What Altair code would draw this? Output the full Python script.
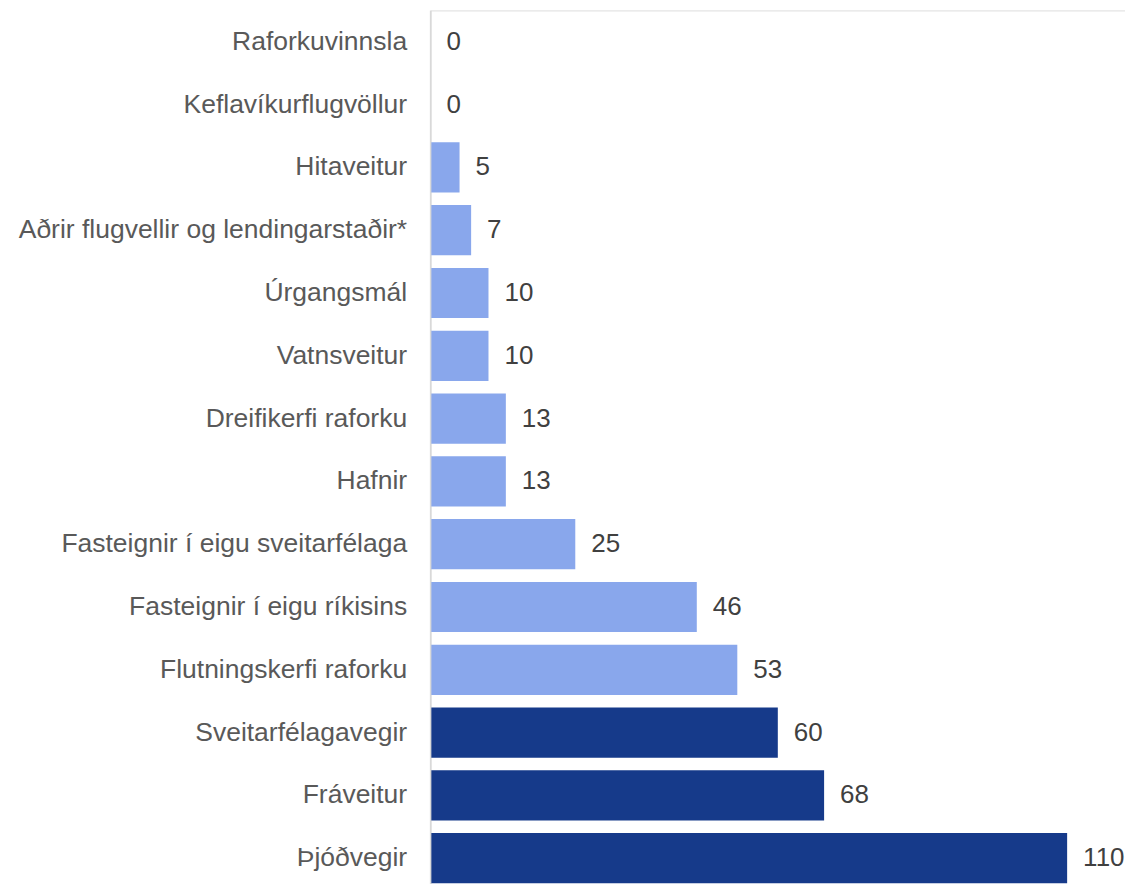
import altair as alt
import pandas as pd

categories = [
    "Raforkuvinnsla",
    "Keflavíkurflugvöllur",
    "Hitaveitur",
    "Aðrir flugvellir og lendingarstaðir*",
    "Úrgangsmál",
    "Vatnsveitur",
    "Dreifikerfi raforku",
    "Hafnir",
    "Fasteignir í eigu sveitarfélaga",
    "Fasteignir í eigu ríkisins",
    "Flutningskerfi raforku",
    "Sveitarfélagavegir",
    "Fráveitur",
    "Þjóðvegir",
]
values = [0, 0, 5, 7, 10, 10, 13, 13, 25, 46, 53, 60, 68, 110]
groups = ["light"] * 11 + ["dark"] * 3
baseline_value = [0]

df = pd.DataFrame({"cat": categories, "val": values, "grp": groups})
base_df = pd.DataFrame({"val": baseline_value})

y_enc = alt.Y(
    "cat:N",
    sort=categories,
    scale=alt.Scale(paddingInner=0.2, paddingOuter=0.1),
    axis=alt.Axis(
        title=None,
        ticks=False,
        grid=False,
        domain=False,
        labelFont="Liberation Sans",
        labelFontSize=26.5,
        labelColor="#595959",
        labelPadding=24,
        labelLimit=600,
    ),
)
x_scale = alt.Scale(domain=[0, 120], nice=False)

bars = alt.Chart(df).mark_bar().encode(
    y=y_enc,
    x=alt.X("val:Q", scale=x_scale, axis=None),
    color=alt.Color(
        "grp:N",
        scale=alt.Scale(domain=["light", "dark"], range=["#89A7EC", "#163A8A"]),
        legend=None,
    ),
)

labels = alt.Chart(df).mark_text(
    align="left",
    baseline="middle",
    dx=16,
    font="Liberation Sans",
    fontSize=26,
    color="#404040",
).encode(
    y=alt.Y("cat:N", sort=categories),
    x=alt.X("val:Q", axis=None),
    text="val:Q",
)

axis_line = alt.Chart(base_df).mark_rule(color="#D9D9D9", strokeWidth=1.5).encode(
    x=alt.X("val:Q", axis=None),
)

chart = (
    alt.layer(bars, labels, axis_line)
    .properties(
        width=695,
        height=880,
        padding={"left": 423, "top": 2, "right": 0, "bottom": 0},
        autosize=alt.AutoSizeParams(type="none"),
    )
    .configure_view(strokeWidth=0, stroke="transparent")
    .configure(background="white")
)

chart.save("out.html", embed_options={"renderer": "svg", "actions": False})
